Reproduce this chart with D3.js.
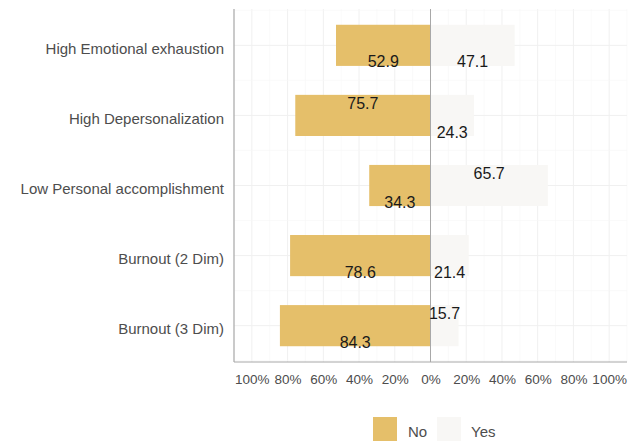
<!DOCTYPE html>
<html>
<head>
<meta charset="utf-8">
<script src="https://cdn.jsdelivr.net/npm/d3@7"></script>
<style>
  html, body { margin: 0; padding: 0; background: #fff; }
  svg { display: block; font-family: "Liberation Sans", Arial, sans-serif; }
</style>
</head>
<body>
<svg id="chart" width="630" height="443"></svg>
<script>
// ---- data ----
const categories = ["High Emotional exhaustion", "High Depersonalization", "Low Personal accomplishment", "Burnout (2 Dim)", "Burnout (3 Dim)"];
const noValues  = [52.9, 75.7, 34.3, 78.6, 84.3];
const yesValues = [47.1, 24.3, 65.7, 21.4, 15.7];
const seriesNames = ["No", "Yes"];
const xTicks = [-100, -80, -60, -40, -20, 0, 20, 40, 60, 80, 100];
const xTickLabels = ["100%", "80%", "60%", "40%", "20%", "0%", "20%", "40%", "60%", "80%", "100%"];
// label placement inside each bar ("top" / "bottom")
const noLabelSide  = ["bottom", "top", "bottom", "bottom", "bottom"];
const yesLabelSide = ["bottom", "bottom", "top", "bottom", "top"];

// ---- styling ----
const colors = { No: "#E5BF6A", Yes: "#F8F7F5" };
const svg = d3.select("#chart");
const pL = 234, pR = 627, pT = 9, pB = 362;

const x = d3.scaleLinear().domain([-110, 110]).range([pL, pR]);
const y = d3.scaleBand().domain(categories).range([pT, pB]).paddingInner(0.413).paddingOuter(0.225);
const yc = d => y(d) + y.bandwidth() / 2;

const g = svg.append("g");

// grid: minor vertical
const minorX = d3.range(-110, 111, 10).filter(v => v % 20 !== 0);
g.selectAll(".gxm").data(minorX).enter().append("line")
  .attr("x1", d => x(d)).attr("x2", d => x(d)).attr("y1", pT).attr("y2", pB)
  .attr("stroke", "#F7F7F7").attr("stroke-width", 0.6);
g.selectAll(".gx").data(xTicks).enter().append("line")
  .attr("x1", d => x(d)).attr("x2", d => x(d)).attr("y1", pT).attr("y2", pB)
  .attr("stroke", "#F0F0F0").attr("stroke-width", 1);
// horizontal grid
const step = y.step();
const minorY = [];
categories.forEach((c) => { minorY.push(yc(c) - step / 2); });
minorY.push(yc(categories[categories.length - 1]) + step / 2);
g.selectAll(".gym").data(minorY.filter(v => v >= pT && v <= pB)).enter().append("line")
  .attr("x1", pL).attr("x2", pR).attr("y1", d => d).attr("y2", d => d)
  .attr("stroke", "#F7F7F7").attr("stroke-width", 0.6);
g.selectAll(".gy").data(categories).enter().append("line")
  .attr("x1", pL).attr("x2", pR).attr("y1", d => yc(d)).attr("y2", d => yc(d))
  .attr("stroke", "#F0F0F0").attr("stroke-width", 1);

// bars
const rows = categories.map((c, i) => ({ c, no: noValues[i], yes: yesValues[i], i }));
g.selectAll(".barNo").data(rows).enter().append("rect")
  .attr("x", d => x(-d.no)).attr("width", d => x(0) - x(-d.no))
  .attr("y", d => y(d.c)).attr("height", y.bandwidth())
  .attr("fill", colors.No);
g.selectAll(".barYes").data(rows).enter().append("rect")
  .attr("x", x(0)).attr("width", d => x(d.yes) - x(0))
  .attr("y", d => y(d.c)).attr("height", y.bandwidth())
  .attr("fill", colors.Yes);

// zero line
g.append("line").attr("x1", x(0)).attr("x2", x(0)).attr("y1", pT).attr("y2", pB)
  .attr("stroke", "#A8A8A8").attr("stroke-width", 1);

// labels
const off = { top: -12.5, bottom: 16.5 };
g.selectAll(".lblNo").data(rows).enter().append("text")
  .attr("x", d => (x(-d.no) + x(0)) / 2)
  .attr("y", d => yc(d.c) + off[noLabelSide[d.i]])
  .attr("dy", "0.35em").attr("text-anchor", "middle")
  .attr("font-size", 16).attr("fill", "#1a1a1a")
  .text(d => d.no.toFixed(1));
g.selectAll(".lblYes").data(rows).enter().append("text")
  .attr("x", d => (x(d.yes) + x(0)) / 2)
  .attr("y", d => yc(d.c) + off[yesLabelSide[d.i]])
  .attr("dy", "0.35em").attr("text-anchor", "middle")
  .attr("font-size", 16).attr("fill", "#1a1a1a")
  .text(d => d.yes.toFixed(1));

// axes
const xAxis = d3.axisBottom(x).tickValues(xTicks).tickFormat((d, i) => xTickLabels[i]).tickSize(0).tickPadding(12);
const xa = svg.append("g").attr("transform", `translate(0,${pB})`).call(xAxis);
xa.select(".domain").remove();
xa.selectAll("text").attr("font-size", 13.5).attr("fill", "#4D4D4D").attr("font-family", "Liberation Sans, Arial, sans-serif");

const yAxis = d3.axisLeft(y).tickSize(0).tickPadding(10);
const ya = svg.append("g").attr("transform", `translate(${pL},0)`).call(yAxis);
ya.select(".domain").remove();
ya.selectAll("text").attr("font-size", 15).attr("fill", "#4D4D4D").attr("dy", "0.55em").attr("font-family", "Liberation Sans, Arial, sans-serif");

// axis lines
svg.append("line").attr("x1", pL).attr("x2", pL).attr("y1", pT).attr("y2", pB)
  .attr("stroke", "#A8A8A8").attr("stroke-width", 1.2);
svg.append("line").attr("x1", pL).attr("x2", pR).attr("y1", pB).attr("y2", pB)
  .attr("stroke", "#A8A8A8").attr("stroke-width", 1.2);

// legend
const legendItems = [{ name: seriesNames[0], kx: 373, tx: 408 }, { name: seriesNames[1], kx: 437, tx: 471 }];
const lg = svg.append("g");
legendItems.forEach(it => {
  lg.append("rect").attr("x", it.kx).attr("y", 417).attr("width", 24).attr("height", 24).attr("fill", colors[it.name]);
  lg.append("text").attr("x", it.tx).attr("y", 432).attr("dy", "0.35em")
    .attr("font-size", 15).attr("fill", "#4D4D4D").text(it.name);
});
</script>
</body>
</html>
